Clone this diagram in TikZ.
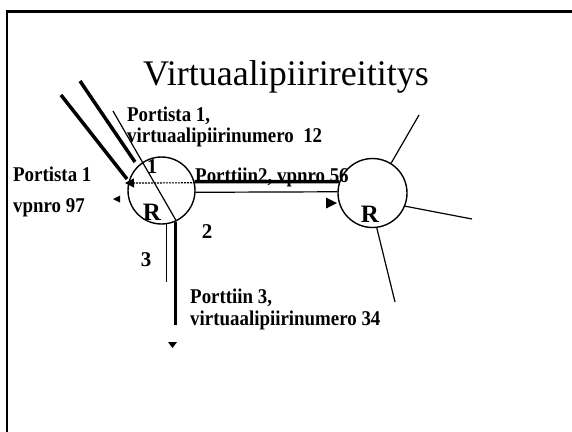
\documentclass[tikz,border=0pt]{standalone}
\usepackage{fontspec}
\setmainfont{Liberation Serif}[BoldFont={Liberation Serif Bold}]
\newfontfamily\lblfont{Liberation Serif Bold}
\newcommand{\cond}[1]{\scalebox{0.9}[1]{#1}}
\usetikzlibrary{arrows.meta}
\begin{document}
\begin{tikzpicture}[x=1pt,y=-1pt,
  lbl/.style={font=\lblfont\fontsize{21}{23}\selectfont, inner sep=0pt, anchor=base west},
  num/.style={font=\lblfont\fontsize{21}{23}\selectfont, inner sep=0pt, anchor=base},
  rlbl/.style={font=\lblfont\fontsize{25}{25}\selectfont, inner sep=0pt, anchor=base},
  router/.style={circle, draw, line width=1.4pt, minimum size=67pt, inner sep=0pt},
  heavy/.style={line width=3.5pt},
  fine/.style={line width=1.2pt}]
\useasboundingbox (0,0) rectangle (572,431);
\clip (0,0) rectangle (572,431);
% frame
\draw[line width=2.4pt] (7,445) -- (7,11.5) -- (590,11.5);
% title
\node[font=\fontsize{36}{40}\selectfont, inner sep=0pt, anchor=base] (title) at (286,85) {Virtuaalipiirireititys};
% routers
\node[router] (L) at (161.5,190.5) {};
\node[router, minimum size=69pt] (R) at (372.5,193) {};
\node[rlbl] (lR) at (152,220) {R};
\node[rlbl] (rR) at (370,222) {R};
% incoming lines at left router
\coordinate (a1) at (80,81);
\coordinate (a2) at (135,162);
\draw[heavy] (a1) -- (a2);
\coordinate (b1) at (61,95);
\coordinate (b2) at (127,179);
\draw[heavy] (b1) -- (b2);
\coordinate (c1) at (113,111);
\draw[fine] (c1) -- (L.-64);
\coordinate (d2) at (125,183);
\draw[fine, dash pattern=on 2pt off 1pt, -{Triangle[length=9pt,width=9pt]}] (L.13) -- (d2);
% link between routers
\draw[heavy] (L.15) -- (R.161);
\draw[fine] (L.-3) -- (R.178);
% downward link
\coordinate (v1) at (167,282);
\coordinate (v2) at (175,325);
\draw[fine] (L.-81) -- (L.-81 |- v1);
\draw[heavy] (L.-66) -- (L.-66 |- v2);
% right router spokes
\coordinate (e1) at (419,115);
\coordinate (e2) at (472,219);
\coordinate (e3) at (395,302);
\draw[fine] (R.58) -- (e1);
\draw[fine] (R.-22) -- (e2);
\draw[fine] (R.-83) -- (e3);
% free arrowheads
\fill (113,199) -- (120,195.5) -- (120,202.5) -- cycle;
\fill (168,342) -- (177,342) -- (172.5,348) -- cycle;
\fill (326,197.5) -- (337,203) -- (326,208.5) -- cycle;
% labels
\node[lbl] (p1a) at (127,121) {\cond{Portista 1,}};
\node[lbl] (p1b) at (127,142) {\cond{virtuaalipiirinumero\ \ 12}};
\node[lbl] (q1a) at (13,181) {\cond{Portista 1}};
\node[lbl] (q1b) at (13,212) {\cond{vpnro 97}};
\node[num] (n1) at (152,173) {1};
\node[num] (n2) at (207,238) {2};
\node[num] (n3) at (146,266) {3};
\node[lbl] (p2) at (195,182) {\cond{Porttiin2, vpnro 56}};
\node[lbl] (p3a) at (190,303) {\cond{Porttiin 3,}};
\node[lbl] (p3b) at (190,325) {\cond{virtuaalipiirinumero 34}};
\end{tikzpicture}
\end{document}
